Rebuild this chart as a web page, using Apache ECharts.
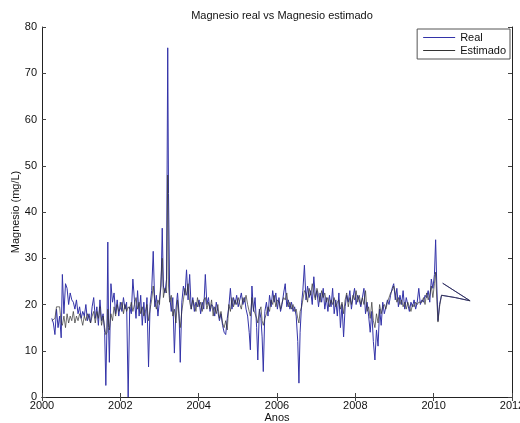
<!doctype html>
<html>
  <head>
    <meta charset="utf-8">
    <title>Magnesio real vs Magnesio estimado</title>
    <script src="https://cdn.jsdelivr.net/npm/echarts@6/dist/echarts.min.js"></script>
    <style>
      html, body { margin: 0; padding: 0; background: #fff; }
    </style>
  </head>
  <body>
    <div id="main" style="width:520px;height:423px;"></div>
  </body>
  <script>
   // fechas (años decimales) y valores
   var fechas = [
     2000.25,2000.29,2000.33,2000.37,2000.41,2000.45,2000.49,2000.52,2000.56,2000.60,
     2000.64,2000.68,2000.72,2000.76,2000.80,2000.84,2000.88,2000.92,2000.96,2001.00,
     2001.04,2001.08,2001.12,2001.16,2001.20,2001.24,2001.28,2001.32,2001.36,2001.40,
     2001.44,2001.48,2001.52,2001.56,2001.60,2001.63,2001.66,2001.68,2001.70,2001.72,
     2001.76,2001.80,2001.84,2001.88,2001.92,2001.96,2002.00,2002.04,2002.08,2002.12,
     2002.16,2002.20,2002.24,2002.28,2002.32,2002.36,2002.40,2002.44,2002.48,2002.52,
     2002.56,2002.60,2002.64,2002.68,2002.72,2002.76,2002.80,2002.84,2002.88,2002.92,
     2002.96,2003.00,2003.04,2003.07,2003.10,2003.14,2003.18,2003.21,2003.23,2003.26,
     2003.30,2003.34,2003.38,2003.42,2003.46,2003.50,2003.53,2003.57,2003.61,2003.65,
     2003.69,2003.73,2003.77,2003.81,2003.85,2003.89,2003.93,2003.97,2004.01,2004.05,
     2004.09,2004.13,2004.17,2004.21,2004.25,2004.29,2004.33,2004.37,2004.41,2004.45,
     2004.49,2004.53,2004.57,2004.61,2004.65,2004.69,2004.73,2004.77,2004.81,2004.85,
     2004.89,2004.93,2004.97,2005.01,2005.05,2005.09,2005.13,2005.17,2005.21,2005.25,
     2005.29,2005.32,2005.36,2005.40,2005.44,2005.48,2005.51,2005.55,2005.59,2005.62,
     2005.65,2005.69,2005.73,2005.77,2005.81,2005.85,2005.89,2005.93,2005.97,2006.01,
     2006.05,2006.09,2006.13,2006.17,2006.21,2006.25,2006.29,2006.33,2006.37,2006.41,
     2006.45,2006.49,2006.53,2006.56,2006.59,2006.63,2006.66,2006.70,2006.74,2006.78,
     2006.82,2006.86,2006.90,2006.94,2006.98,2007.02,2007.06,2007.10,2007.14,2007.18,
     2007.22,2007.26,2007.30,2007.34,2007.38,2007.42,2007.46,2007.50,2007.54,2007.58,
     2007.62,2007.66,2007.70,2007.74,2007.78,2007.82,2007.86,2007.90,2007.94,2007.98,
     2008.02,2008.06,2008.10,2008.14,2008.18,2008.22,2008.26,2008.30,2008.34,2008.38,
     2008.42,2008.46,2008.50,2008.54,2008.58,2008.62,2008.66,2008.70,2008.74,2008.78,
     2008.82,2008.86,2008.90,2008.94,2008.98,2009.02,2009.06,2009.10,2009.14,2009.18,
     2009.22,2009.26,2009.30,2009.34,2009.38,2009.42,2009.46,2009.50,2009.54,2009.58,
     2009.62,2009.66,2009.70,2009.74,2009.78,2009.82,2009.86,2009.90,2009.94,2009.98,
     2010.02,2010.05,2010.08,2010.11,2010.15,2010.20,2010.55,2010.93,2010.23
   ];
   var real = [
     17.0,16.0,13.5,19.0,15.0,17.5,12.8,26.5,18.0,24.5,
     23.5,20.0,22.5,21.0,20.5,19.0,21.0,18.0,19.5,17.0,
     18.5,17.5,20.0,16.5,18.0,16.0,19.5,21.5,17.0,19.5,
     15.5,21.0,16.5,18.0,14.0,2.5,16.0,33.5,15.0,7.5,
     24.5,20.5,22.5,18.0,21.0,17.5,20.5,18.5,21.5,19.0,
     20.5,0.0,19.5,18.0,25.5,21.0,17.0,23.0,17.5,22.0,
     15.5,20.5,16.0,21.5,6.5,20.0,23.0,31.5,19.5,22.0,
     17.5,21.0,24.0,36.5,24.0,22.5,25.5,75.5,44.0,22.0,
     18.5,21.5,9.5,19.0,22.5,18.0,7.5,20.5,24.0,22.0,
     27.5,21.0,26.5,19.0,21.5,18.5,20.5,19.5,21.0,18.0,
     20.5,19.0,26.5,20.0,21.5,18.5,20.0,19.5,17.5,20.5,
     18.5,16.5,18.0,15.5,14.0,13.5,17.0,19.5,23.5,19.0,
     21.5,20.0,22.0,19.5,21.0,22.5,20.0,21.5,19.0,17.5,
     14.0,10.2,24.0,18.5,21.5,15.0,8.0,19.0,17.0,13.0,
     5.5,18.5,20.5,17.5,22.0,19.5,23.0,20.5,22.5,19.0,
     21.5,18.5,20.0,22.5,24.5,19.5,21.0,19.0,20.5,18.5,
     19.5,17.5,12.0,3.0,14.0,20.5,23.0,28.5,21.0,24.0,
     21.5,23.0,20.0,26.0,21.5,23.0,19.5,22.5,20.5,23.5,
     19.0,21.5,18.5,22.0,19.5,23.5,18.0,21.0,17.5,22.5,
     15.0,20.0,13.0,19.5,22.0,20.5,23.0,19.0,21.5,23.5,
     20.0,22.0,21.0,19.5,21.5,23.5,18.0,20.5,17.5,14.0,
     18.5,12.0,8.0,14.5,11.0,19.0,15.5,20.5,18.0,19.5,
     21.0,20.0,22.0,23.5,24.5,21.0,23.5,19.5,22.0,20.0,
     23.0,19.0,21.5,20.0,18.5,20.5,19.5,21.0,19.0,20.5,
     23.5,20.0,21.0,20.5,22.0,21.5,23.0,20.5,25.5,23.5,
     26.5,34.0,24.0,16.5,20.0,22.0,21.5,20.8,24.6
   ];
   var estimado = [
     16.5,16.5,17.0,19.5,19.5,19.5,16.0,15.5,17.5,15.0,
     18.0,16.0,17.5,16.5,18.5,16.0,17.5,16.5,18.0,17.0,
     15.5,17.5,16.5,18.0,17.0,16.0,17.5,18.5,16.0,18.5,
     17.0,19.5,15.5,17.5,15.0,13.5,14.0,19.0,16.0,14.5,
     18.0,16.5,19.5,17.5,20.0,18.5,19.0,20.5,18.0,20.0,
     18.5,19.5,19.0,20.5,18.5,20.0,21.5,19.0,20.5,18.0,
     19.5,17.5,18.5,20.0,16.5,19.0,21.0,24.0,20.5,19.0,
     21.0,20.0,26.0,30.0,21.5,23.5,22.5,48.0,24.0,20.5,
     22.0,17.5,19.0,16.0,21.0,17.0,15.0,18.5,21.0,23.5,
     22.0,24.5,20.5,19.0,21.0,20.0,18.5,21.5,19.5,20.5,
     18.5,21.0,21.5,19.0,20.5,19.0,21.0,17.5,19.5,18.0,
     20.0,17.0,18.5,16.0,15.0,16.5,14.5,20.0,18.5,21.5,
     19.5,21.0,20.0,21.5,20.0,19.0,21.5,20.5,22.0,20.0,
     18.5,17.5,21.5,19.0,18.0,17.0,16.0,18.5,19.5,16.5,
     15.5,17.0,18.0,19.5,18.5,21.0,20.0,22.0,19.5,21.0,
     20.5,19.0,20.5,21.5,21.0,22.5,19.5,20.5,19.0,20.0,
     18.5,19.0,17.0,16.0,18.5,19.5,21.0,23.0,22.5,20.5,
     23.5,22.0,24.5,22.5,21.0,23.5,22.0,20.5,23.0,21.5,
     22.5,20.5,21.5,19.5,21.0,20.0,21.5,19.5,20.5,21.0,
     19.0,20.5,18.0,21.0,22.5,19.5,21.5,20.0,22.0,21.0,
     23.0,20.5,22.0,20.0,21.5,20.0,23.0,18.5,19.5,17.0,
     20.5,16.5,15.0,18.0,16.0,20.0,18.0,19.5,20.0,19.0,
     20.5,21.5,22.5,23.0,24.0,22.5,20.5,21.5,20.0,21.0,
     19.5,20.5,19.0,20.5,19.5,18.5,20.0,19.5,20.5,20.0,
     20.5,20.5,20.5,21.5,20.0,22.5,21.0,22.0,24.0,21.5,
     24.5,27.0,21.0,16.2,19.5,22.0,21.5,20.8,24.6
   ];

   function pares(ys) {
     var out = [];
     for (var i = 0; i < fechas.length; i++) {
       out.push([fechas[i], ys[i]]);
     }
     return out;
   }

   var chart = echarts.init(document.getElementById('main'), null, {renderer: 'canvas'});
   var fuente = 'Liberation Sans';
   var ejeLinea = {show: true, lineStyle: {color: '#222', width: 1}};
   var marca = {show: true, inside: true, length: 4, lineStyle: {color: '#444'}};

   var option = {
     animation: false,
     backgroundColor: '#fff',
     title: {
       text: 'Magnesio real vs Magnesio estimado',
       left: 277,
       textAlign: 'center',
       top: 5,
       textStyle: {fontFamily: fuente, fontSize: 11, fontWeight: 'normal', color: '#111'}
     },
     legend: {
       right: 10,
       top: 29,
       orient: 'vertical',
       icon: 'rect',
       itemWidth: 32,
       itemHeight: 1,
       itemGap: 2,
       padding: [3, 4, 3, 6],
       borderColor: '#555',
       borderWidth: 1,
       backgroundColor: '#fff',
       textStyle: {fontFamily: fuente, fontSize: 11, color: '#111'},
       data: ['Real', 'Estimado']
     },
     grid: {left: 42, right: 8, top: 27, bottom: 26, containLabel: false, outerBoundsMode: 'none'},
     xAxis: [
       {
         type: 'value', min: 2000, max: 2012, interval: 2,
         name: 'Anos', nameLocation: 'middle', nameGap: 15, nameMoveOverlap: false,
         nameTextStyle: {fontFamily: fuente, fontSize: 11, color: '#111'},
         axisLine: ejeLinea, axisTick: marca,
         axisLabel: {fontFamily: fuente, fontSize: 11, color: '#111', margin: 3,
           formatter: function (v) { return String(v); }},
         splitLine: {show: false}
       },
       {
         type: 'value', min: 2000, max: 2012, interval: 2, position: 'top',
         axisLine: ejeLinea, axisTick: marca, axisLabel: {show: false},
         splitLine: {show: false}
       }
     ],
     yAxis: [
       {
         type: 'value', min: 0, max: 80, interval: 10,
         name: 'Magnesio (mg/L)', nameLocation: 'middle', nameGap: 21, nameMoveOverlap: false,
         nameTextStyle: {fontFamily: fuente, fontSize: 11, color: '#111'},
         axisLine: ejeLinea, axisTick: marca,
         axisLabel: {fontFamily: fuente, fontSize: 11, color: '#111', margin: 5},
         splitLine: {show: false}
       },
       {
         type: 'value', min: 0, max: 80, interval: 10, position: 'right',
         axisLine: ejeLinea, axisTick: marca, axisLabel: {show: false},
         splitLine: {show: false}
       }
     ],
     series: [
       {
         name: 'Real',
         type: 'line',
         showSymbol: false,
         data: pares(real),
         lineStyle: {color: '#3333a8', width: 1},
         itemStyle: {color: '#3333a8'}
       },
       {
         name: 'Estimado',
         type: 'line',
         showSymbol: false,
         data: pares(estimado),
         lineStyle: {color: '#333', width: 0.7},
         itemStyle: {color: '#333'}
       }
     ]
   };
   chart.setOption(option);
  </script>
</html>
